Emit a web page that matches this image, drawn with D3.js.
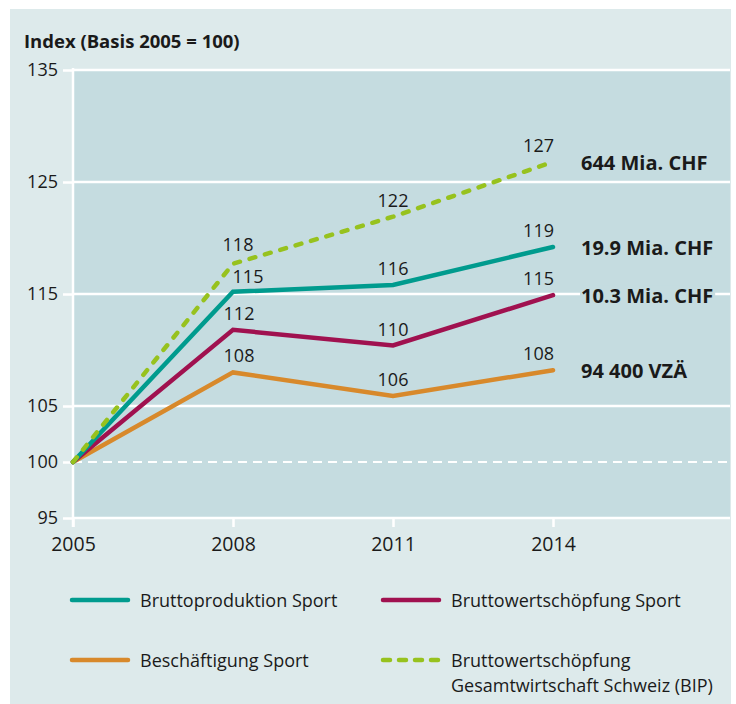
<!DOCTYPE html>
<meta charset="utf-8">
<style>
  body { margin: 0; background: #fff; }
  svg text { font-family: "Open Sans", "Noto Sans", sans-serif; fill: #1a1a1a; }
</style>
<script src="https://d3js.org/d3.v7.min.js"></script>
<svg id="chart" width="736" height="704"></svg>
<script>

// data
var years = [2005, 2008, 2011, 2014];
var produktion = [100, 115.2, 115.8, 119.2];
var wertschoepfung = [100, 111.8, 110.4, 114.9];
var beschaeftigung = [100, 108.0, 105.9, 108.2];
var bip = [100, 117.7, 121.9, 126.8];
var seriesNames = ["Bruttoproduktion Sport", "Bruttowertschöpfung Sport",
  "Beschäftigung Sport", "Bruttowertschöpfung|Gesamtwirtschaft Schweiz (BIP)"];
var endLabels = ["19.9 Mia. CHF", "10.3 Mia. CHF", "94 400 VZÄ", "644 Mia. CHF"];
var yTicks = [95, 100, 105, 115, 125, 135];
var gridValues = [105, 115, 125, 135];

var colors = ["#009b8e", "#a0114f", "#d8892b", "#97c21e"];
var plotBg = "#c5dce0", panelBg = "#ddeaeb";

var series = [produktion, wertschoepfung, beschaeftigung, bip].map(function(v, i) {
  return { name: seriesNames[i], label: endLabels[i], color: colors[i], dashed: i == 3,
    values: v.map(function(d, j) { return { year: years[j], value: d }; }) };
});

var svg = d3.select("#chart");

// scales
var x = d3.scaleLinear().domain([2005, 2014]).range([73, 553]);
var y = d3.scaleLinear().domain([95, 135]).range([518, 70]);
var plotRight = 730;

// panel + plot background
svg.append("rect").attr("x", 10).attr("y", 9).attr("width", 721).attr("height", 695)
  .attr("fill", panelBg);
svg.append("rect").attr("x", x(2005)).attr("y", y(135))
  .attr("width", plotRight - x(2005)).attr("height", y(95) - y(135))
  .attr("fill", plotBg);

svg.append("text").attr("x", 24).attr("y", 48)
  .style("font-weight", "bold").style("font-size", "18.5px")
  .text("Index (Basis 2005 = 100)");

// gridlines
svg.append("g").selectAll("line").data(gridValues.concat([95])).enter().append("line")
  .attr("x1", x(2005)).attr("x2", plotRight)
  .attr("y1", function(d) { return y(d); }).attr("y2", function(d) { return y(d); })
  .attr("stroke", "#fff").attr("stroke-width", 2.5);

svg.append("line")
  .attr("x1", x(2005)).attr("x2", plotRight).attr("y1", y(100)).attr("y2", y(100))
  .attr("stroke", "#fff").attr("stroke-width", 2).attr("stroke-dasharray", "9,6");

// axes
var yAxis = svg.append("g").attr("transform", "translate(" + x(2005) + ",0)")
  .call(d3.axisLeft(y).tickValues(yTicks).tickSize(10).tickPadding(5));
var xAxis = svg.append("g").attr("transform", "translate(0," + y(95) + ")")
  .call(d3.axisBottom(x).tickValues(years).tickFormat(d3.format("d")).tickSize(9).tickPadding(10));

yAxis.select(".domain").remove();
xAxis.select(".domain").remove();
yAxis.selectAll("line").attr("stroke", "#fff").attr("stroke-width", 2.5);
xAxis.selectAll("line").attr("stroke", "#fff").attr("stroke-width", 2.5);
yAxis.selectAll("text").style("font-size", "18px").attr("fill", "#1a1a1a");
xAxis.selectAll("text").style("font-size", "19.5px").attr("fill", "#1a1a1a");

svg.append("line").attr("x1", x(2005)).attr("x2", x(2005))
  .attr("y1", y(135) - 2).attr("y2", y(95) + 9)
  .attr("stroke", "#fff").attr("stroke-width", 2.5);

// lines
var line = d3.line()
  .x(function(d) { return x(d.year); })
  .y(function(d) { return y(d.value); });

var drawOrder = [2, 1, 0, 3];
drawOrder.forEach(function(i) {
  var s = series[i];
  svg.append("path").datum(s.values)
    .attr("d", line)
    .attr("fill", "none")
    .attr("stroke", s.color)
    .attr("stroke-width", 4.5)
    .attr("stroke-linecap", "round")
    .attr("stroke-dasharray", s.dashed ? "6,10" : null);
});

// value labels
series.forEach(function(s, i) {
  s.values.forEach(function(d, j) {
    if (j == 0) return;
    var dx = 0, dy = -10, anchor = "middle";
    if (j == 1) { dx = 6; }
    if (j == 1 && i == 0) { dx = 15; dy = -9; }
    if (j == 1 && i == 3) { dx = 5; dy = -13; }
    if (j == 3) { anchor = "end"; dx = 1; }
    svg.append("text")
      .attr("x", x(d.year) + dx).attr("y", y(d.value) + dy)
      .attr("text-anchor", anchor)
      .style("font-size", "18px")
      .text(Math.round(d.value));
  });
});

// end labels
series.forEach(function(s) {
  var last = s.values[s.values.length - 1];
  var g = svg.append("g");
  var t = g.append("text")
    .attr("x", 581).attr("y", y(last.value) + 8)
    .style("font-size", "20px").style("font-weight", "bold")
    .text(s.label);
  var bb = t.node().getBBox();
  g.insert("rect", "text")
    .attr("x", bb.x - 1).attr("y", bb.y + 3).attr("width", bb.width + 3).attr("height", bb.height - 6)
    .attr("fill", plotBg);
});

// legend
var legendPos = [[72, 600], [383, 600], [72, 660], [383, 660]];
series.forEach(function(s, i) {
  var g = svg.append("g").attr("transform", "translate(" + legendPos[i][0] + "," + legendPos[i][1] + ")");
  g.append("line").attr("x1", 0).attr("x2", 56)
    .attr("stroke", s.color).attr("stroke-width", 4.5).attr("stroke-linecap", "round")
    .attr("stroke-dasharray", s.dashed ? "7,9" : null);
  var t = g.append("text").attr("x", 68).attr("y", 7).style("font-size", "18px");
  s.name.split("|").forEach(function(part, k) {
    t.append("tspan").attr("x", 68).attr("dy", k == 0 ? 0 : 25).text(part);
  });
});

</script>
